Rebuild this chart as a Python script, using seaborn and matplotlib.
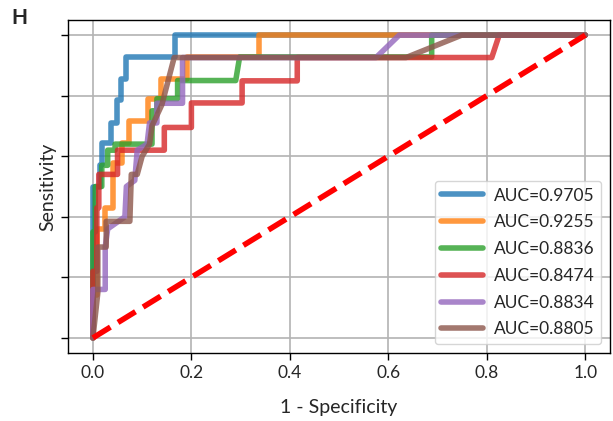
import matplotlib
matplotlib.use('Agg')

import matplotlib.pyplot as plt
import numpy as np
import pandas as pd
import seaborn as sns

# ROC vertices (1 - specificity, sensitivity)

labels = ['AUC=0.9705', 'AUC=0.9255', 'AUC=0.8836', 'AUC=0.8474', 'AUC=0.8834', 'AUC=0.8805']

fpr_blue = [0, 0, 0.014, 0.014, 0.018, 0.018, 0.036, 0.036, 0.048, 0.048, 0.058, 0.058, 0.068, 0.068, 0.166, 0.166, 1.0]
tpr_blue = [0, 0.50, 0.50, 0.57, 0.57, 0.645, 0.645, 0.71, 0.71, 0.785, 0.785, 0.855, 0.855, 0.928, 0.928, 1.0, 1.0]

fpr_orange = [0, 0, 0.008, 0.008, 0.025, 0.025, 0.040, 0.040, 0.060, 0.060, 0.074, 0.074, 0.111, 0.111, 0.139, 0.139, 0.192, 0.192, 0.338, 0.338, 1.0]
tpr_orange = [0, 0.14, 0.14, 0.36, 0.36, 0.43, 0.43, 0.578, 0.578, 0.645, 0.645, 0.717, 0.717, 0.789, 0.789, 0.855, 0.855, 0.928, 0.928, 1.0, 1.0]

fpr_green = [0, 0, 0.005, 0.005, 0.018, 0.018, 0.030, 0.030, 0.045, 0.045, 0.120, 0.120, 0.130, 0.130, 0.172, 0.172, 0.290, 0.298, 0.688, 0.688, 1.0]
tpr_green = [0, 0.35, 0.35, 0.50, 0.50, 0.57, 0.57, 0.62, 0.62, 0.64, 0.64, 0.75, 0.75, 0.79, 0.79, 0.85, 0.85, 0.928, 0.928, 1.0, 1.0]

fpr_red = [0, 0, 0.008, 0.008, 0.012, 0.012, 0.050, 0.050, 0.145, 0.145, 0.200, 0.200, 0.303, 0.303, 0.415, 0.415, 0.810, 0.825, 1.0]
tpr_red = [0, 0.22, 0.22, 0.43, 0.43, 0.54, 0.54, 0.62, 0.62, 0.695, 0.695, 0.776, 0.776, 0.849, 0.849, 0.926, 0.926, 1.0, 1.0]

fpr_purple = [0, 0, 0.025, 0.025, 0.030, 0.065, 0.068, 0.085, 0.090, 0.110, 0.115, 0.130, 0.130, 0.182, 0.182, 0.575, 0.622, 1.0]
tpr_purple = [0, 0.16, 0.16, 0.30, 0.36, 0.40, 0.50, 0.52, 0.62, 0.64, 0.71, 0.71, 0.775, 0.775, 0.926, 0.926, 1.0, 1.0]

fpr_brown = [0, 0.010, 0.010, 0.027, 0.027, 0.075, 0.078, 0.090, 0.100, 0.115, 0.120, 0.140, 0.165, 0.636, 0.749, 1.0]
tpr_brown = [0, 0.15, 0.30, 0.30, 0.385, 0.385, 0.54, 0.54, 0.60, 0.64, 0.70, 0.77, 0.926, 0.926, 1.0, 1.0]

curves = [(fpr_blue, tpr_blue), (fpr_orange, tpr_orange), (fpr_green, tpr_green),
          (fpr_red, tpr_red), (fpr_purple, tpr_purple), (fpr_brown, tpr_brown)]

# long table for seaborn

rows = []
for lab, (f, t) in zip(labels, curves):
    for i in range(len(f)):
        rows.append({'fpr': f[i], 'tpr': t[i], 'model': lab, 'step': i})
df = pd.DataFrame(rows)

sns.set_style("ticks", {"axes.grid": True, "grid.color": "#b3b3b3",
                        "axes.edgecolor": "black"})
plt.rcParams['font.family'] = ['Lato', 'DejaVu Sans']

fig = plt.figure(figsize=(6.13, 4.21), dpi=100)
ax = fig.add_axes([0.1114, 0.1615, 0.8836, 0.791])

sns.lineplot(data=df, x='fpr', y='tpr', hue='model', hue_order=labels,
             palette=sns.color_palette('tab10', 6), units='model',
             estimator=None, sort=False, lw=4, alpha=0.8, ax=ax)

ax.plot([0, 1], [0, 1], color='red', linestyle='--', lw=4)

ax.set_xlim(-0.05, 1.05)
ax.set_ylim(-0.05, 1.05)
ax.set_xticks(np.arange(0, 1.01, 0.2))
ax.set_yticks(np.arange(0, 1.01, 0.2))
ax.set_yticklabels([])
ax.grid(True, lw=1.2, color='#b3b3b3')
ax.tick_params(axis='both', length=5, width=1, labelsize=12.5, color='black')
for s in ax.spines.values():
    s.set_linewidth(1)
    s.set_color('black')

ax.set_xlabel('1 - Specificity', fontsize=14, labelpad=13)
ax.set_ylabel('Sensitivity', fontsize=14, labelpad=0)

leg = ax.legend(loc='lower right', fontsize=12.5, handlelength=2.4,
                handletextpad=0.6, labelspacing=0.62)
leg.set_title(None)

fig.text(0.019, 0.957, 'H', fontsize=15, fontweight='bold', ha='left', va='center')

plt.savefig('out.png', dpi=100)
